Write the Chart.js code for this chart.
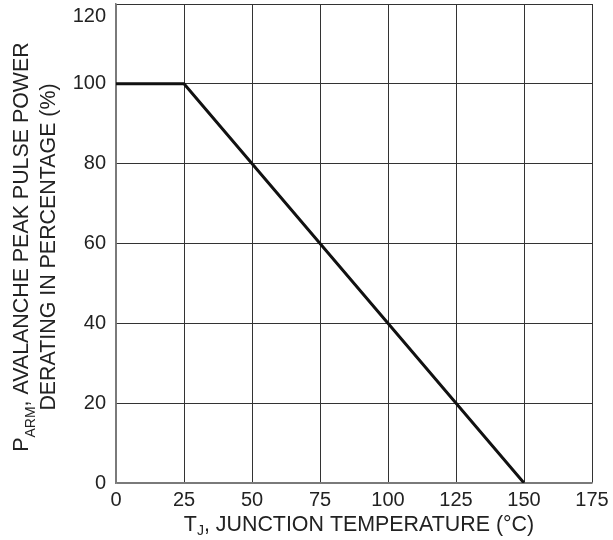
<!DOCTYPE html>
<html>
<head>
<meta charset="utf-8">
<script src="https://cdn.jsdelivr.net/npm/chart.js@4.4.1/dist/chart.umd.min.js"></script>
<style>
  html, body { margin: 0; padding: 0; background: #fff; }
  #wrap { width: 613px; height: 540px; }
</style>
</head>
<body>
<div id="wrap"><canvas id="chart"></canvas></div>
<script>
// data
const temps = [0, 25, 150];          // T_J (°C)
const derating = [100, 100, 0];      // P_ARM (%)
const xTicks = [0, 25, 50, 75, 100, 125, 150, 175];
const yTicks = [0, 20, 40, 60, 80, 100, 120];

const FONT = "Arial, 'Liberation Sans', sans-serif";
const INK = '#222';

// axis titles with subscripts, drawn as canvas text
const axisTitles = {
  id: 'axisTitles',
  afterDraw(chart) {
    const { ctx, chartArea: a } = chart;
    const drawRun = (parts, cx, cy) => {
      let w = 0;
      parts.forEach(p => { ctx.font = p.size + 'px ' + FONT; w += ctx.measureText(p.t).width; });
      let x = cx - w / 2;
      parts.forEach(p => {
        ctx.font = p.size + 'px ' + FONT;
        ctx.fillText(p.t, x, cy + (p.dy || 0));
        x += ctx.measureText(p.t).width;
      });
    };
    ctx.save();
    ctx.fillStyle = INK;
    ctx.textAlign = 'left';
    ctx.textBaseline = 'alphabetic';
    drawRun([{t: 'T', size: 21.4}, {t: 'J', size: 14, dy: 4}, {t: ', JUNCTION TEMPERATURE (°C)', size: 21.4}],
      (a.left + a.right) / 2 + 5, 531);

    const cy = 247;
    ctx.save();
    ctx.translate(28, cy);
    ctx.rotate(-Math.PI / 2);
    drawRun([{t: 'P', size: 21.4}, {t: 'ARM', size: 14, dy: 7}, {t: ', AVALANCHE PEAK PULSE POWER', size: 21.4}], 0, 0);
    ctx.restore();
    ctx.save();
    ctx.translate(55, cy);
    ctx.rotate(-Math.PI / 2);
    drawRun([{t: 'DERATING IN PERCENTAGE (%)', size: 21.4}], 0, 0);
    ctx.restore();
    ctx.restore();
  }
};

new Chart(document.getElementById('chart'), {
  type: 'line',
  data: {
    datasets: [{
      data: temps.map((t, i) => ({x: t, y: derating[i]})),
      borderColor: '#111',
      borderWidth: 3,
      pointRadius: 0,
      tension: 0,
      fill: false
    }]
  },
  options: {
    responsive: true,
    maintainAspectRatio: false,
    animation: false,
    layout: { padding: { left: 0, top: 4, right: 21, bottom: 0 } },
    plugins: { legend: { display: false }, tooltip: { enabled: false } },
    scales: {
      x: {
        type: 'linear',
        min: 0, max: 175,
        afterBuildTicks: s => { s.ticks = xTicks.map(v => ({value: v})); },
        afterFit: s => { s.height = 57; s.paddingLeft = 0; s.paddingRight = 0; },
        ticks: { font: { family: FONT, size: 20 }, color: INK, padding: 5, maxRotation: 0 },
        grid: { color: c => c.tick && c.tick.value === 0 ? '#7a7a7a' : '#333', lineWidth: 1, drawTicks: false },
        border: { color: '#7a7a7a', width: 1.5 }
      },
      y: {
        min: 0, max: 120,
        afterBuildTicks: s => { s.ticks = yTicks.map(v => ({value: v})); },
        afterFit: s => { s.width = 116; s.paddingTop = 0; s.paddingBottom = 0; },
        ticks: {
          font: { family: FONT, size: 20 }, color: INK, padding: 10,
          callback: v => v === 120 ? ['', '120'] : String(v)
        },
        grid: { color: c => c.tick && c.tick.value === 0 ? '#7a7a7a' : '#333', lineWidth: 1, drawTicks: false },
        border: { color: '#7a7a7a', width: 1.5 }
      }
    }
  },
  plugins: [axisTitles]
});
</script>
</body>
</html>
